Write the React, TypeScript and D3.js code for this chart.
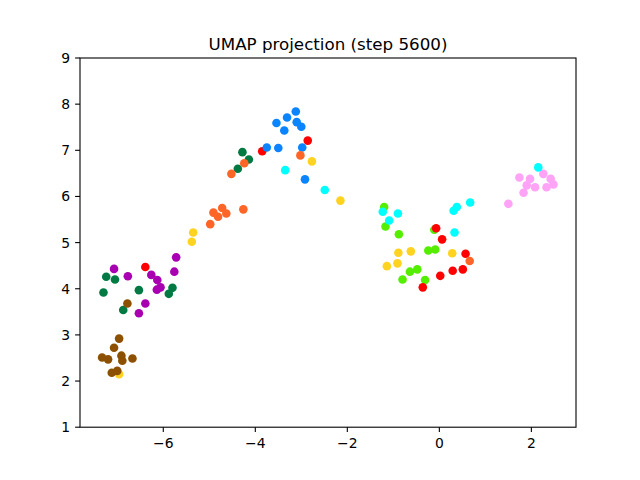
import React from "react";
import * as d3 from "d3";

const TITLE = "UMAP projection (step 5600)";
const X_TICKS = [-6, -4, -2, 0, 2];
const Y_TICKS = [1, 2, 3, 4, 5, 6, 7, 8, 9];
const X_DOMAIN = [-7.81, 2.97];
const Y_DOMAIN = [1, 9];

const purple: [number, number][] = [
  [-5.72, 4.68], [-7.07, 4.43], [-6.77, 4.27], [-6.26, 4.3], [-5.76, 4.37],
  [-6.13, 4.19], [-6.06, 4.03], [-6.14, 3.98], [-6.39, 3.68], [-6.53, 3.47],
];
const yellow: [number, number][] = [
  [-2.77, 6.76], [-2.15, 5.91], [-5.35, 5.22], [-5.38, 5.02], [-6.96, 2.15],
  [-0.89, 4.78], [-0.62, 4.81], [0.28, 4.77], [-1.14, 4.49], [-0.91, 4.55],
];
const lime: [number, number][] = [
  [-1.2, 5.77], [-1.17, 5.35], [-0.88, 5.18], [-0.11, 5.28], [-0.24, 4.83],
  [-0.09, 4.85], [-0.64, 4.37], [-0.48, 4.42], [-0.8, 4.2], [-0.31, 4.19],
];
const red: [number, number][] = [
  [-6.39, 4.47], [-2.86, 7.21], [-3.85, 6.98], [-0.07, 5.31], [0.06, 5.07],
  [0.57, 4.76], [-0.36, 4.03], [0.02, 4.28], [0.29, 4.39], [0.51, 4.42],
];
const blue: [number, number][] = [
  [-3.12, 7.84], [-3.31, 7.71], [-3.54, 7.59], [-3.1, 7.61], [-3.0, 7.51],
  [-3.37, 7.43], [-2.98, 7.06], [-3.5, 7.05], [-3.75, 7.06], [-2.92, 6.37],
];
const pink: [number, number][] = [
  [1.74, 6.41], [1.97, 6.38], [2.26, 6.49], [2.42, 6.38], [2.48, 6.26],
  [2.33, 6.2], [2.08, 6.2], [1.9, 6.24], [1.83, 6.08], [1.5, 5.84],
];
const cyan: [number, number][] = [
  [-3.35, 6.57], [-2.49, 6.14], [-1.23, 5.67], [-0.9, 5.63], [-1.09, 5.48],
  [0.38, 5.77], [0.31, 5.69], [0.67, 5.87], [0.33, 5.22], [2.15, 6.63],
];
const green: [number, number][] = [
  [-7.24, 4.26], [-7.05, 4.2], [-7.3, 3.92], [-6.53, 3.97], [-5.8, 4.02],
  [-5.88, 3.89], [-6.87, 3.54], [-4.28, 6.96], [-4.14, 6.8], [-4.38, 6.6],
];
const orange: [number, number][] = [
  [-4.24, 6.72], [-4.52, 6.49], [-3.02, 6.89], [-4.26, 5.72], [-4.72, 5.75],
  [-4.91, 5.65], [-4.81, 5.56], [-4.63, 5.63], [-4.98, 5.4], [0.66, 4.6],
];
const brown: [number, number][] = [
  [-6.96, 2.92], [-7.07, 2.72], [-7.33, 2.51], [-7.2, 2.47], [-6.91, 2.55],
  [-6.89, 2.44], [-6.67, 2.49], [-7.12, 2.18], [-7.0, 2.22], [-6.78, 3.68],
];

const SERIES: { pts: [number, number][]; color: string }[] = [
  { pts: purple, color: "#a800b0" },
  { pts: yellow, color: "#ffd320" },
  { pts: lime, color: "#55ee00" },
  { pts: red, color: "#ff0000" },
  { pts: blue, color: "#0a84ff" },
  { pts: pink, color: "#ffa3f7" },
  { pts: cyan, color: "#00ffff" },
  { pts: green, color: "#007a42" },
  { pts: orange, color: "#ff6526" },
  { pts: brown, color: "#8c5000" },
];

export default function App() {
  const W = 640, H = 480;
  const left = 80, right = 576, top = 58, bottom = 427.2;
  const x = d3.scaleLinear().domain(X_DOMAIN).range([left, right]);
  const y = d3.scaleLinear().domain(Y_DOMAIN).range([bottom, top]);
  const fmt = d3.format("d");
  const font = "DejaVu Sans, sans-serif";
  return (
    <svg width={W} height={H} style={{ position: "absolute", left: 0, top: 0, background: "#fff" }}>
      <rect x={0} y={0} width={W} height={H} fill="#fff" />
      <text x={(left + right) / 2} y={49.5} textAnchor="middle" fontFamily={font} fontSize={16.7} fill="#000">
        {TITLE}
      </text>
      <g>
        {SERIES.map((s, i) => (
          <g key={i}>
            {s.pts.map((p, j) => (
              <circle key={j} cx={x(p[0])} cy={y(p[1])} r={4.3} fill={s.color} />
            ))}
          </g>
        ))}
      </g>
      <rect x={left} y={top} width={right - left} height={bottom - top} fill="none" stroke="#000" strokeWidth={1.1} />
      {X_TICKS.map((t) => (
        <g key={"x" + t}>
          <line x1={x(t)} x2={x(t)} y1={bottom} y2={bottom + 4.9} stroke="#000" strokeWidth={1.1} />
          <text x={x(t)} y={bottom + 20.5} textAnchor="middle" fontFamily={font} fontSize={13.9} fill="#000">
            {fmt(t)}
          </text>
        </g>
      ))}
      {Y_TICKS.map((t) => (
        <g key={"y" + t}>
          <line x1={left - 4.9} x2={left} y1={y(t)} y2={y(t)} stroke="#000" strokeWidth={1.1} />
          <text x={left - 9.8} y={y(t) + 5} textAnchor="end" fontFamily={font} fontSize={13.9} fill="#000">
            {fmt(t)}
          </text>
        </g>
      ))}
    </svg>
  );
}
